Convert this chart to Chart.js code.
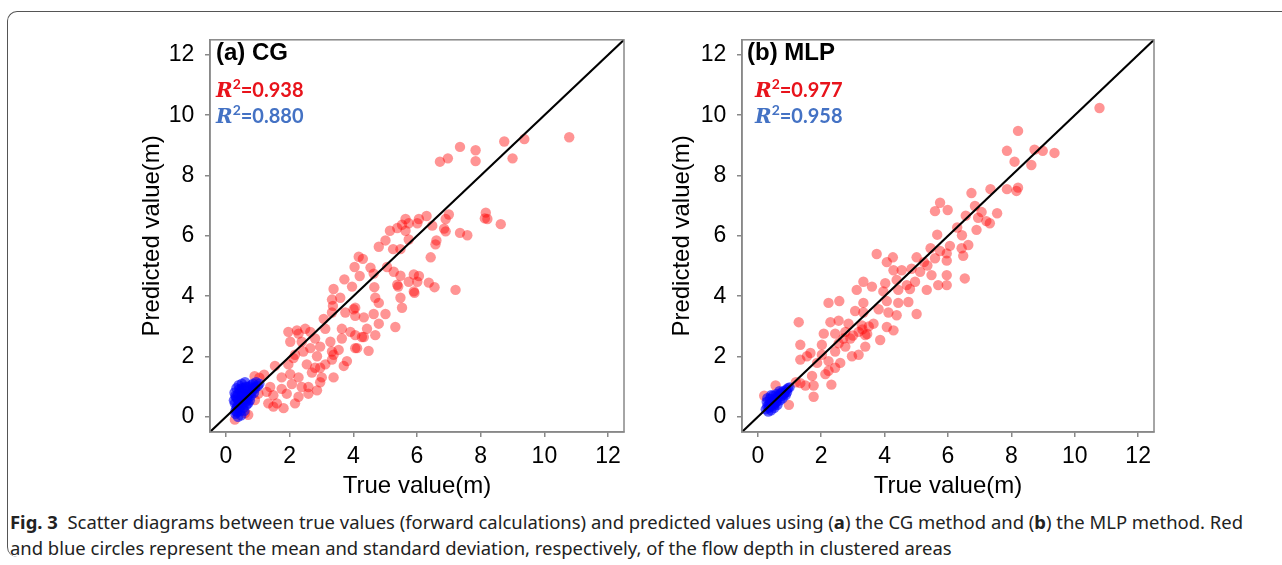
<!DOCTYPE html>
<html>
<head>
<meta charset="utf-8">
<script src="https://cdn.jsdelivr.net/npm/chart.js@4.4.1/dist/chart.umd.min.js"></script>
<style>
html, body { margin: 0; padding: 0; background: #fff; }
body { width: 1282px; height: 565px; overflow: hidden; position: relative; font-family: "Liberation Sans", Arial, sans-serif; }
.frame { position: absolute; left: 7px; top: 11px; width: 1320px; height: 545px; border-left: 1.5px solid #555; border-top: 1.5px solid #555; border-radius: 10px 0 0 10px; }
canvas.cv { position: absolute; top: 20px; }
.ptitle { position: absolute; top: 38px; font: bold 24px/28px "Liberation Sans", Arial, sans-serif; color: #000; white-space: nowrap; }
.r2 { position: absolute; font: bold 20px/24px Lato, "Open Sans", sans-serif; white-space: nowrap; }
.r2 i { font-family: "DejaVu Serif", "Liberation Serif", serif; font-style: italic; font-weight: bold; font-size: 20px; }
.r2 sup { font-size: 14px; line-height: 0; vertical-align: 8px; }
.red { color: #e8131b; }
.blue { color: #4472c4; }
.cap { position: absolute; left: 10px; font: 18px/22px "Noto Sans", "Open Sans", sans-serif; color: #222; white-space: nowrap; transform-origin: 0 50%; }
.cap b { font-weight: bold; }
</style>
</head>
<body>
<div class="frame"></div>

<canvas id="chartCG" class="cv" width="530" height="485" style="left:110px"></canvas>
<canvas id="chartMLP" class="cv" width="530" height="485" style="left:640px"></canvas>

<div class="ptitle" style="left:216px">(a) CG</div>
<div class="r2 red" style="left:216px;top:77px"><i>R</i><sup>2</sup>=0.938</div>
<div class="r2 blue" style="left:216px;top:103px"><i>R</i><sup>2</sup>=0.880</div>

<div class="ptitle" style="left:747px">(b) MLP</div>
<div class="r2 red" style="left:755px;top:77px"><i>R</i><sup>2</sup>=0.977</div>
<div class="r2 blue" style="left:755px;top:103px"><i>R</i><sup>2</sup>=0.958</div>

<div class="cap" id="cap1" style="top:511px"><b>Fig. 3</b>&nbsp; Scatter diagrams between true values (forward calculations) and predicted values using (<b>a</b>) the CG method and (<b>b</b>) the MLP method. Red</div>
<div class="cap" id="cap2" style="top:537px">and blue circles represent the mean and standard deviation, respectively, of the flow depth in clustered areas</div>

<script>
// axis setup
const axisRange = [-0.5, 12.5];
const tickValues = [0, 2, 4, 6, 8, 10, 12];
const refLine = [-0.5, 12.5]; // 1:1 line

// (a) CG - red: mean, blue: std
const cgRed = [
  [4.06,3.35],[4.33,3.30],[4.64,3.41],[5.01,3.41],[3.07,3.25],[3.33,3.46],[3.75,3.46],[5.32,2.98],[4.80,3.09],[4.43,2.92],
  [3.64,2.92],[3.91,2.82],[4.06,2.71],[4.27,2.65],[4.69,2.71],[2.23,2.87],[2.49,2.92],[2.65,2.82],[3.12,2.92],[2.80,2.60],
  [3.28,2.49],[3.64,2.60],[4.06,2.28],[4.48,2.19],[3.54,2.22],[3.38,2.06],[2.96,2.33],[2.65,2.28],[2.02,2.49],[2.38,2.49],
  [2.17,2.06],[1.96,1.74],[2.54,1.74],[2.80,1.63],[3.12,1.74],[3.33,1.90],[3.70,1.69],[1.54,1.69],[1.75,1.31],[2.02,1.42],
  [2.28,1.31],[2.38,0.99],[2.70,1.47],[3.01,1.31],[3.38,1.31],[2.96,1.15],[2.59,0.99],[2.07,1.09],[1.75,0.93],[1.39,0.99],
  [1.49,0.72],[1.91,0.77],[2.28,0.67],[2.59,0.77],[2.86,0.88],[1.33,0.45],[1.60,0.45],[1.81,0.29],[2.17,0.45],[1.49,0.34],
  [1.28,0.83],[1.02,0.77],[0.91,0.56],[0.70,0.07],[0.28,-0.09],[0.60,0.13],[0.90,1.35],[1.20,1.40],[1.05,1.30],
  [1.96,2.82],[2.28,2.76],[2.43,2.17],[2.12,1.95],[2.86,2.01],[3.33,2.17],[3.80,1.85],[2.96,1.63],[4.12,2.28],[4.33,2.65],
  [10.78,9.27],[9.37,9.21],[8.74,9.13],[7.35,8.95],[7.84,8.84],[7.84,8.48],[9.00,8.57],[6.97,8.57],[6.72,8.46],[8.16,6.77],
  [8.21,6.56],[8.13,6.58],[8.63,6.39],[7.00,6.71],[6.90,6.56],[6.30,6.66],[6.06,6.56],[6.01,6.42],[5.64,6.56],[5.53,6.37],
  [5.38,6.26],[5.64,6.17],[5.15,6.17],[5.74,6.42],[6.48,6.34],[6.85,6.24],[6.90,6.15],[7.35,6.10],[7.58,6.02],[6.61,5.85],
  [6.58,5.72],[5.74,5.88],[5.01,5.85],[4.80,5.64],[5.25,5.56],[5.48,5.56],[6.43,5.29],[4.17,5.31],[4.30,5.24],[4.04,4.97],
  [4.54,4.95],[5.06,4.97],[5.27,4.81],[4.64,4.75],[4.20,4.67],[5.48,4.68],[5.90,4.72],[6.06,4.67],[5.74,4.48],[6.01,4.48],
  [6.37,4.45],[5.38,4.38],[5.41,4.32],[3.72,4.56],[3.96,4.32],[3.38,4.24],[4.66,4.30],[6.55,4.30],[7.21,4.21],[5.90,4.16],
  [5.92,4.11],[5.48,3.95],[4.69,3.95],[4.80,3.78],[3.59,3.95],[3.33,3.89],[3.36,3.68],[4.01,3.57],[4.06,3.62],[5.53,3.62]
];
const cgBlue = [
  [0.30,0.20],[0.35,0.35],[0.28,0.45],[0.40,0.55],[0.32,0.65],[0.38,0.75],[0.45,0.85],[0.42,0.30],[0.50,0.40],[0.55,0.55],
  [0.48,0.65],[0.60,0.70],[0.52,0.80],[0.58,0.95],[0.65,0.85],[0.70,1.00],[0.75,0.90],[0.80,1.05],[0.85,1.10],[0.90,1.00],
  [0.95,1.15],[1.05,1.10],[0.62,0.50],[0.68,0.60],[0.72,0.75],[0.78,0.70],[0.35,0.15],[0.45,0.20],[0.55,0.30],[0.25,0.55],
  [0.27,0.80],[0.33,0.95],[0.40,1.05],[0.50,1.10],[0.60,1.15],[0.65,0.40],[0.70,0.45],[0.58,0.20],[0.48,0.05],[0.38,0.00],
  [0.30,0.10],[0.82,0.85],[0.88,0.80],[0.75,0.55],[0.44,0.48],[0.36,0.60],[0.52,0.72],[0.66,0.68],[0.42,0.92],[0.30,0.70],
  [0.56,0.62],[0.92,0.95],[1.00,1.02],[0.85,0.95],[0.62,1.00],[0.50,0.95],[0.40,0.40],[0.33,0.28]
];

// (b) MLP
const mlpRed = [
  [2.23,3.78],[2.57,3.84],[3.07,3.51],[3.81,3.57],[3.33,3.46],[4.12,3.46],[4.38,3.37],[5.01,3.41],
  [1.29,3.14],[2.29,3.14],[2.55,3.19],[2.86,3.09],[3.28,3.03],[3.65,3.09],[4.07,2.98],[4.28,2.87],[2.08,2.76],[2.44,2.76],
  [2.76,2.82],[3.18,2.82],[3.39,2.71],[3.86,2.55],[2.92,2.60],[2.55,2.44],[1.34,2.39],[2.02,2.39],[2.76,2.33],[3.39,2.33],
  [1.66,2.12],[1.55,2.01],[1.34,1.90],[2.02,2.06],[2.44,2.17],[2.97,2.01],[3.18,2.06],[1.87,1.79],[2.23,1.85],[2.60,1.79],
  [2.23,1.53],[2.44,1.63],[2.13,1.42],[1.71,1.36],[1.50,1.04],[1.76,1.04],[1.34,1.12],[2.32,1.07],[1.76,0.67],[0.98,0.40],
  [0.56,1.04],[0.20,0.70],[1.20,1.15],[3.30,2.90],[3.45,2.75],[3.50,3.00],[3.00,2.70],[2.70,2.60],
  [10.78,10.24],[8.21,9.48],[7.86,8.82],[8.73,8.86],[8.99,8.82],[9.36,8.75],[8.10,8.46],[8.63,8.35],[7.86,7.55],[8.21,7.60],
  [8.16,7.49],[7.34,7.55],[6.74,7.42],[5.75,7.10],[5.59,6.82],[5.99,6.86],[6.85,6.99],[7.06,6.79],[7.55,6.75],[6.56,6.67],
  [6.95,6.60],[7.21,6.49],[7.32,6.42],[6.90,6.20],[6.29,6.28],[5.66,6.04],[6.44,6.02],[6.06,5.67],[5.45,5.59],[5.75,5.50],
  [6.64,5.70],[6.43,5.59],[6.48,5.34],[5.96,5.42],[3.75,5.40],[4.07,5.13],[4.26,5.29],[5.01,5.29],[5.24,5.13],[5.59,5.26],
  [5.96,5.18],[4.28,4.86],[4.54,4.86],[4.85,4.91],[5.35,5.02],[5.12,4.81],[5.48,4.70],[5.96,4.70],[6.53,4.59],[3.33,4.48],
  [3.60,4.32],[4.02,4.43],[4.38,4.54],[4.70,4.37],[4.96,4.48],[5.33,4.21],[5.69,4.37],[5.96,4.37],[3.12,4.21],[3.96,4.16],
  [4.43,4.21],[4.80,4.24],[3.33,3.78],[4.07,3.84],[4.43,3.78],[4.75,3.81]
];
const mlpBlue = [
  [0.25,0.25],[0.30,0.35],[0.28,0.50],[0.35,0.30],[0.40,0.45],[0.38,0.60],[0.45,0.40],[0.50,0.55],[0.48,0.70],[0.55,0.45],
  [0.60,0.60],[0.58,0.75],[0.65,0.65],[0.70,0.75],[0.75,0.70],[0.80,0.85],[0.85,0.80],[0.90,0.90],[0.95,0.95],[1.00,0.98],
  [0.70,0.55],[0.62,0.40],[0.52,0.30],[0.42,0.22],[0.33,0.18],[0.30,0.62],[0.42,0.72],[0.55,0.62],[0.78,0.62],[0.88,0.72],
  [0.68,0.85],[0.36,0.42],[0.46,0.52],[0.58,0.50],[0.64,0.70],[0.74,0.80],[0.82,0.75],[0.92,0.82],[0.50,0.38],[0.40,0.35]
];

const toXY = arr => arr.map(p => ({ x: p[0], y: p[1] }));

// gray frame round the plot area
const boxPlugin = {
  id: 'box',
  afterDraw(chart) {
    const { ctx, chartArea: a } = chart;
    ctx.save();
    ctx.strokeStyle = '#888';
    ctx.lineWidth = 1.5;
    ctx.strokeRect(a.left, a.top, a.right - a.left, a.bottom - a.top);
    ctx.restore();
  }
};

function axis(titleText, fitFn, titlePad, labelFn) {
  return {
    type: 'linear',
    min: axisRange[0],
    max: axisRange[1],
    afterBuildTicks: s => { s.ticks = tickValues.map(v => ({ value: v })); },
    afterFit: fitFn,
    ticks: { color: '#000', font: { family: 'Liberation Sans', size: 23 }, padding: 6, callback: labelFn },
    grid: { drawOnChartArea: false, drawTicks: true, tickLength: 5, color: '#888', lineWidth: 1.5 },
    border: { color: '#888', width: 1.5 },
    title: { display: true, text: titleText, color: '#000', font: { family: 'Liberation Sans', size: 24 }, padding: titlePad }
  };
}

function makeChart(id, red, blue, yWidth) {
  return new Chart(document.getElementById(id), {
    type: 'scatter',
    data: {
      datasets: [
        { type: 'line', data: refLine.map(v => ({ x: v, y: v })), borderColor: '#000', borderWidth: 2, pointRadius: 0, order: 0 },
        { data: toXY(blue), backgroundColor: 'rgba(0,0,255,0.6)', borderWidth: 0, pointRadius: 5.2, order: 1 },
        { data: toXY(red), backgroundColor: 'rgba(255,0,0,0.42)', borderWidth: 0, pointRadius: 5.2, order: 2 }
      ]
    },
    options: {
      responsive: false,
      animation: false,
      events: [],
      layout: { padding: { top: 11, right: 16, left: 0, bottom: 0 } },
      plugins: { legend: { display: false }, tooltip: { enabled: false } },
      scales: {
        x: axis('True value(m)', s => { s.height = 73; }, { top: 0, bottom: 4 }, v => String(v)),
        y: axis('Predicted value(m)', s => { s.width = yWidth; }, { top: 28, bottom: 0 }, v => v + '\u2009')
      }
    },
    plugins: [boxPlugin]
  });
}

makeChart('chartCG', cgRed, cgBlue, 100);
makeChart('chartMLP', mlpRed, mlpBlue, 102);

// squeeze caption lines to the narrow typeface width
const cap1 = document.getElementById('cap1');
const cap2 = document.getElementById('cap2');
const k = 1233 / cap1.getBoundingClientRect().width;
cap1.style.transform = `scaleX(${k})`;
cap2.style.transform = `scaleX(${k})`;
</script>
</body>
</html>
